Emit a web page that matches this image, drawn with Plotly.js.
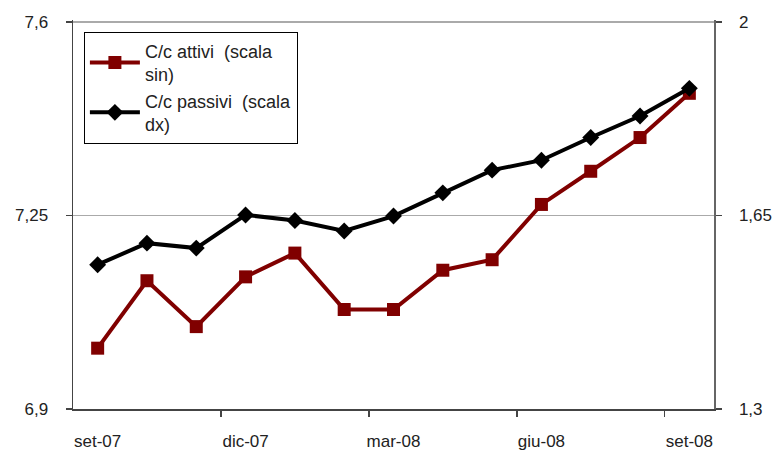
<!DOCTYPE html>
<html>
<head>
<meta charset="utf-8">
<script src="https://cdn.plot.ly/plotly-3.0.1.min.js"></script>
<style>html,body{margin:0;padding:0;background:#fff;}#chart{width:778px;height:450px;}</style>
</head>
<body>
<div id="chart"></div>
<script>
// Months (categories)
const months = ['set-07','ott-07','nov-07','dic-07','gen-08','feb-08','mar-08','apr-08','mag-08','giu-08','lug-08','ago-08','set-08'];
// C/c attivi (left scale)
const attivi = [7.010, 7.132, 7.049, 7.139, 7.182, 7.080, 7.080, 7.151, 7.170, 7.270, 7.330, 7.391, 7.471];
// C/c passivi (right scale)
const passivi = [1.561, 1.600, 1.591, 1.651, 1.641, 1.622, 1.649, 1.691, 1.732, 1.750, 1.791, 1.830, 1.880];
// Tick labels
const xLabelIdx = [0, 3, 6, 9, 12];
const leftTicks = [6.9, 7.25, 7.6];
const rightTicks = [1.3, 1.65, 2];

const idx = months.map((m, i) => i);

const traces = [
  {
    x: idx, y: attivi, name: 'C/c attivi  (scala<br>sin)', type: 'scatter', mode: 'lines+markers',
    line: {color: '#800000', width: 4}, marker: {symbol: 'square', size: 13, color: '#800000'},
    yaxis: 'y'
  },
  {
    x: idx, y: passivi, name: 'C/c passivi  (scala<br>dx)', type: 'scatter', mode: 'lines+markers',
    line: {color: '#000000', width: 4}, marker: {symbol: 'diamond', size: 13, color: '#000000'},
    yaxis: 'y2'
  }
];

const font = {family: 'Liberation Sans, Arial, sans-serif', size: 17, color: '#222'};

const layout = {
  width: 778, height: 450,
  margin: {l: 73, r: 64, t: 20, b: 41},
  paper_bgcolor: '#fff', plot_bgcolor: '#fff',
  separators: ',.',
  font: font,
  showlegend: true,
  legend: {
    x: 0.017, y: 0.97, xanchor: 'left', yanchor: 'top',
    bordercolor: '#000', borderwidth: 1, bgcolor: '#fff',
    font: {family: 'Liberation Sans, Arial, sans-serif', size: 18, color: '#222'},
    itemwidth: 50, tracegroupgap: 0
  },
  xaxis: {
    range: [-0.5, 12.5], showgrid: false, zeroline: false,
    tickmode: 'array', tickvals: xLabelIdx, ticktext: xLabelIdx.map(i => months[i]),
    ticks: '', showline: true, linecolor: '#444', linewidth: 1.5,
    ticklabelstandoff: 16,
    minor: {tickmode: 'array', tickvals: [2.5, 5.5, 8.5, 11.5], ticks: 'outside', ticklen: 6, tickcolor: '#444', tickwidth: 1.5, showgrid: false},
    fixedrange: true
  },
  yaxis: {
    range: [6.9, 7.6036], tickmode: 'array', tickvals: leftTicks,
    ticks: 'outside', ticklen: 6, tickcolor: '#444', tickwidth: 1.5,
    showline: true, linecolor: '#444', linewidth: 1.5,
    showgrid: true, gridcolor: '#aaa', gridwidth: 1.2, zeroline: false,
    ticklabelstandoff: 14
  },
  yaxis2: {
    range: [1.3, 2.0036], overlaying: 'y', side: 'right', tickmode: 'array', tickvals: rightTicks,
    ticks: 'outside', ticklen: 6, tickcolor: '#444', tickwidth: 1.5,
    showline: true, linecolor: '#666', linewidth: 1.5,
    showgrid: false, zeroline: false, ticklabelstandoff: 14
  }
};

Plotly.newPlot('chart', traces, layout, {displayModeBar: false, staticPlot: true});
</script>
</body>
</html>
